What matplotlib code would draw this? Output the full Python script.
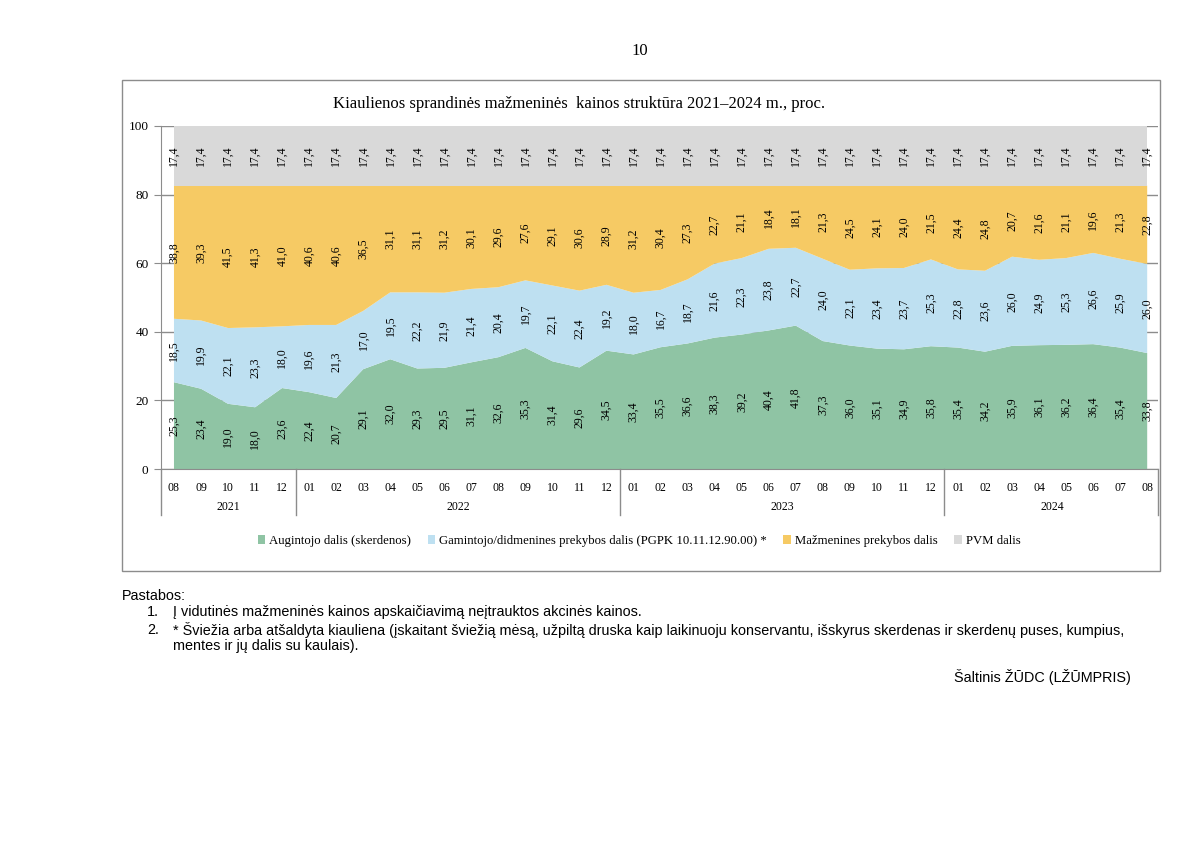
import matplotlib.pyplot as plt
from matplotlib.patches import Rectangle, Patch
import matplotlib.transforms as mtransforms

plt.rcParams['font.family'] = ['Liberation Serif', 'DejaVu Serif']

# Data
months = ['08', '09', '10', '11', '12',
          '01', '02', '03', '04', '05', '06', '07', '08', '09', '10', '11', '12',
          '01', '02', '03', '04', '05', '06', '07', '08', '09', '10', '11', '12',
          '01', '02', '03', '04', '05', '06', '07', '08']
years = ['2021', '2022', '2023', '2024']
year_counts = [5, 12, 12, 8]

augintojo = [25.3, 23.4, 19.0, 18.0, 23.6,
             22.4, 20.7, 29.1, 32.0, 29.3, 29.5, 31.1, 32.6, 35.3, 31.4, 29.6, 34.5,
             33.4, 35.5, 36.6, 38.3, 39.2, 40.4, 41.8, 37.3, 36.0, 35.1, 34.9, 35.8,
             35.4, 34.2, 35.9, 36.1, 36.2, 36.4, 35.4, 33.8]
gamintojo = [18.5, 19.9, 22.1, 23.3, 18.0,
             19.6, 21.3, 17.0, 19.5, 22.2, 21.9, 21.4, 20.4, 19.7, 22.1, 22.4, 19.2,
             18.0, 16.7, 18.7, 21.6, 22.3, 23.8, 22.7, 24.0, 22.1, 23.4, 23.7, 25.3,
             22.8, 23.6, 26.0, 24.9, 25.3, 26.6, 25.9, 26.0]
mazmenines = [38.8, 39.3, 41.5, 41.3, 41.0,
              40.6, 40.6, 36.5, 31.1, 31.1, 31.2, 30.1, 29.6, 27.6, 29.1, 30.6, 28.9,
              31.2, 30.4, 27.3, 22.7, 21.1, 18.4, 18.1, 21.3, 24.5, 24.1, 24.0, 21.5,
              24.4, 24.8, 20.7, 21.6, 21.1, 19.6, 21.3, 22.8]
pvm = [17.4] * 37

series_names = ['Augintojo dalis (skerdenos)',
                'Gamintojo/didmenines prekybos dalis (PGPK 10.11.12.90.00) *',
                'Mažmenines prekybos dalis',
                'PVM dalis']
colors = ['#8fc4a4', '#bee0f1', '#f6ca64', '#d9d9d9']

fig = plt.figure(figsize=(12, 8.49), dpi=100)

# outer frame
fig.patches.append(Rectangle((122 / 1200, 1 - 571 / 849), (1160 - 122) / 1200, (571 - 80) / 849,
                             transform=fig.transFigure, fill=False, edgecolor='#8c8c8c', lw=1))

ax = fig.add_axes([161 / 1200, 1 - 469 / 849, (1158 - 161) / 1200, (469 - 126) / 849])
x = list(range(len(months)))
all_series = [augintojo, gamintojo, mazmenines, pvm]
ax.stackplot(x, *all_series, colors=colors, zorder=2)

# value labels in the middle of each band
bottom = [0] * len(x)
for s in all_series:
    for i in x:
        ax.text(i, bottom[i] + s[i] / 2, f'{s[i]:.1f}'.replace('.', ','), rotation=90,
                ha='center', va='center', fontsize=8.5, zorder=3)
    bottom = [b + v for b, v in zip(bottom, s)]

ax.set_xlim(-0.48, 36.4)
ax.set_ylim(0, 100)
ax.set_yticks([0, 20, 40, 60, 80, 100])
ax.tick_params(axis='y', labelsize=9.5, length=5, color='#8c8c8c', pad=4)
ax.yaxis.grid(True, color='#8c8c8c', lw=1, zorder=0)
ax.set_axisbelow(True)
for side in ['top', 'right']:
    ax.spines[side].set_visible(False)
for side in ['left', 'bottom']:
    ax.spines[side].set_color('#8c8c8c')

ax.set_xticks(x)
ax.set_xticklabels(months, fontsize=8.5)
ax.tick_params(axis='x', length=0, pad=9)

# year separators and labels
trans = mtransforms.blended_transform_factory(ax.transData, ax.transAxes)
start = -0.5
ax.plot([-0.48, -0.48], [0, -0.134], transform=trans, color='#8c8c8c', lw=1, clip_on=False)
for yr, n in zip(years, year_counts):
    end = start + n
    xe = min(end, 36.4)
    ax.plot([xe, xe], [0, -0.134], transform=trans, color='#8c8c8c', lw=1, clip_on=False)
    ax.text((start + end) / 2, -0.111, yr, transform=trans, ha='center', va='center', fontsize=8.5)
    start = end

fig.text(333 / 1200, 1 - 104 / 849, 'Kiaulienos sprandinės mažmeninės  kainos struktūra 2021–2024 m., proc.',
         ha='left', va='center', fontsize=12)
fig.text(640 / 1200, 1 - 51 / 849, '10', ha='center', va='center', fontsize=12)

handles = [Patch(facecolor=c, edgecolor='none') for c in colors]
fig.legend(handles, series_names, loc='center', bbox_to_anchor=(639 / 1200, 1 - 541 / 849), ncol=4,
           frameon=False, fontsize=9.2, handlelength=0.6, handleheight=0.6, handletextpad=0.3,
           columnspacing=1.3)

# notes
sans = ['Liberation Sans', 'DejaVu Sans']
fig.text(122 / 1200, 1 - 596 / 849, 'Pastabos:', family=sans, fontsize=10.4, va='center')
fig.text(147 / 1200, 1 - 612 / 849, '1.', family=sans, fontsize=10.4, va='center')
fig.text(173 / 1200, 1 - 612 / 849, 'Į vidutinės mažmeninės kainos apskaičiavimą neįtrauktos akcinės kainos.',
         family=sans, fontsize=10.4, va='center')
fig.text(147 / 1200, 1 - 630 / 849, '2.', family=sans, fontsize=10.4, va='center')
fig.text(173 / 1200, 1 - 630 / 849,
         '* Šviežia arba atšaldyta kiauliena (įskaitant šviežią mėsą, užpiltą druska kaip laikinuoju konservantu, išskyrus skerdenas ir skerdenų puses, kumpius,',
         family=sans, fontsize=10.4, va='center')
fig.text(173 / 1200, 1 - 646 / 849, 'mentes ir jų dalis su kaulais).',
         family=sans, fontsize=10.4, va='center')
fig.text(1131 / 1200, 1 - 677 / 849, 'Šaltinis ŽŪDC (LŽŪMPRIS)', family=sans, fontsize=10.4,
         ha='right', va='center')

fig.savefig('out.png', dpi=100)
